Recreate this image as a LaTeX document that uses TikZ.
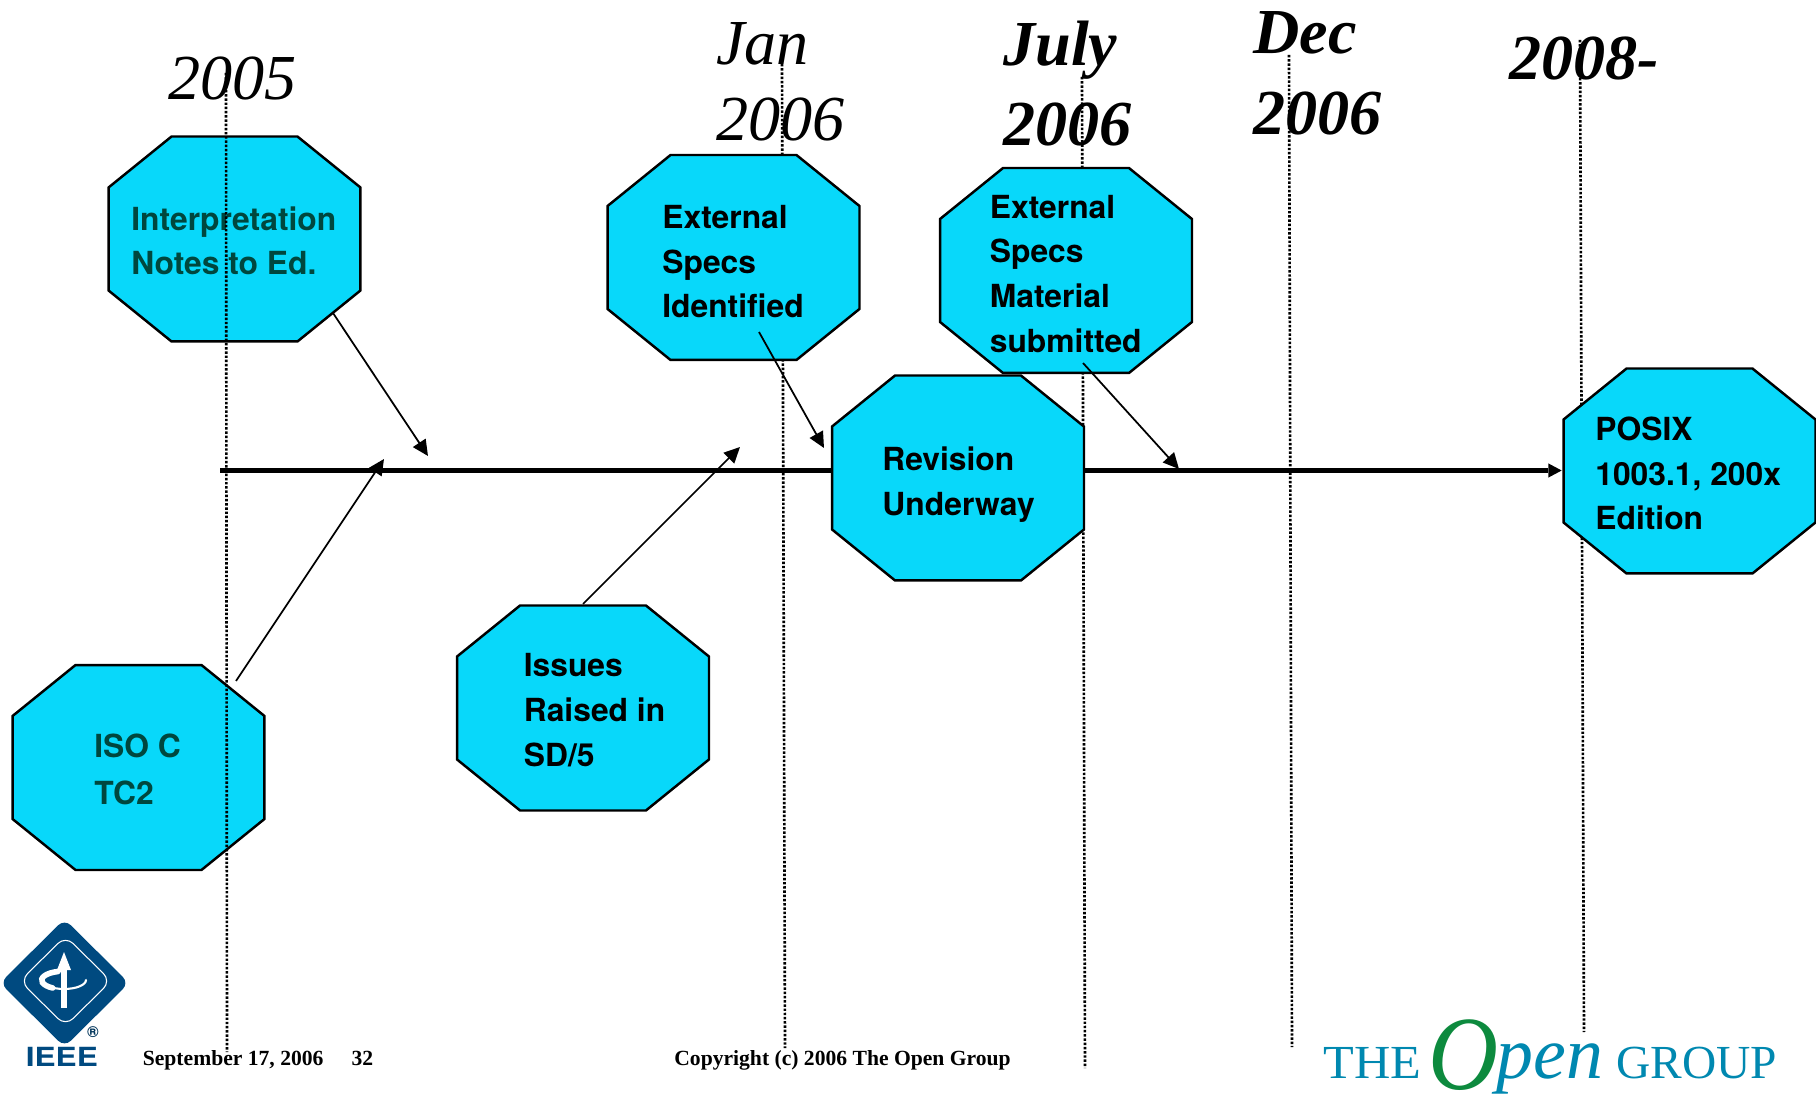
\documentclass[tikz,border=0pt]{standalone}
\usepackage{fontspec}
\usepackage{graphicx}
\usetikzlibrary{calc,arrows.meta}
\setmainfont{Liberation Serif}
\setsansfont{TeX Gyre Heros}
\definecolor{octfill}{HTML}{08D8FA}
\definecolor{darkteal}{HTML}{00473E}
\definecolor{ieeeblue}{HTML}{004A80}
\definecolor{ogblue}{HTML}{0088B0}
\definecolor{oggreen}{HTML}{0D8A3E}
\tikzset{
  octbox/.style={minimum width=5.04cm,minimum height=4.10cm,inner sep=0pt,outer sep=0pt},
  octo/.style={draw=black,fill=octfill,line width=1.4pt,line join=miter},
  octtext/.style={font=\sffamily\bfseries\fontsize{18.1}{25.5}\selectfont,align=left,anchor=base west,inner sep=0pt,text=black},
  year/.style={font=\itshape\fontsize{36.5}{43}\selectfont,align=left,anchor=base west,inner sep=0pt},
  yearb/.style={font=\bfseries\itshape\fontsize{36.5}{#1}\selectfont,align=left,anchor=base west,inner sep=0pt},
  yearb/.default=43,
  foot/.style={font=\bfseries\fontsize{12.3}{14}\selectfont,anchor=base west,inner sep=0pt},
  guide/.style={line width=1.5pt,dash pattern=on 1.4pt off 1pt},
  pointer/.style={line width=1pt,-{Triangle[length=9pt,width=8.5pt]},shorten >=0pt},
  axis/.style={line width=2.8pt,-{Triangle[length=7.5pt,width=8pt,line width=0pt]}},
  ogtext/.style={text=ogblue,anchor=base west,inner sep=0pt}
}
\newcommand{\octa}[3]{%
  \node[octbox] (#1) at (#2,#3) {};
  \draw[octo] ($(#1.north west)+(63,0)$) -- ($(#1.north east)+(-63,0)$) -- ($(#1.north east)+(0,51)$)
    -- ($(#1.south east)+(0,-51)$) -- ($(#1.south east)+(-63,0)$) -- ($(#1.south west)+(63,0)$)
    -- ($(#1.south west)+(0,-51)$) -- ($(#1.north west)+(0,51)$) -- cycle;
}
\begin{document}
\begin{tikzpicture}[x=0.02cm,y=-0.02cm]
\useasboundingbox (0,0) rectangle (1816,1094);

% axis
\coordinate (axisstart) at (220,470.5);
\node[inner sep=0pt,minimum size=0pt] (axisend) at (1562,470.5) {};
\draw[axis] (axisstart) -- (axisend);

% year labels
\node[year] (y2005) at (168,100) {2005};
\node[year] (yjan) at (716,140.5) {Jan\\2006};
\node[yearb=45.6] (yjul) at (1003,146) {July\\2006};
\node[yearb=46.3] (ydec) at (1253,134.5) {Dec\\2006};
\node[yearb] (y2008) at (1509,80) {2008-};

% guides behind boxes
\coordinate (g2a) at (782,64);    \coordinate (g2b) at (785,1048);
\coordinate (g3a) at (1082,77);   \coordinate (g3b) at (1085,1068);
\coordinate (g4a) at (1289,55);   \coordinate (g4b) at (1292,1047);
\coordinate (g5a) at (1580,40);   \coordinate (g5b) at (1584,1032);
\draw[guide] (g2a) -- (g2b);
\draw[guide] (g3a) -- (g3b);
\draw[guide] (g4a) -- (g4b);
\draw[guide] (g5a) -- (g5b);

% octagons
\octa{interp}{234.5}{239}
\octa{extid}{733.5}{257.5}
\octa{extmat}{1066}{270.5}
\octa{rev}{958}{478}
\octa{posix}{1689.5}{471}
\octa{iso}{138.5}{767.5}
\octa{issues}{583}{708}

% texts
\node[octtext,text=darkteal] (tinterp) at (131,275) {Interpretation\\Notes to Ed.};
\node[octtext] (textid) at (662,318) {External\\Specs\\Identified};
\node[octtext] (textmat) at (989.5,352.5) {External\\Specs\\Material\\submitted};
\node[octtext] (trev) at (882,515.5) {Revision\\Underway};
\node[octtext] (tposix) at (1595,530) {POSIX\\1003.1, 200x\\Edition};
\node[octtext,text=darkteal,font=\sffamily\bfseries\fontsize{18.1}{26.7}\selectfont] (tiso) at (94,804.5) {ISO C\\TC2};
\node[octtext] (tissues) at (523.5,766) {Issues\\Raised in\\SD/5};

% first guide, over its boxes
\coordinate (g1a) at (226,73);   \coordinate (g1b) at (227,1052);
\draw[guide] (g1a) -- (g1b);

% pointers
\coordinate (p1s) at (333,313);   \coordinate (p1e) at (428,456);
\coordinate (p2s) at (236,681);   \coordinate (p2e) at (384,459);
\coordinate (p3s) at (583,604);   \coordinate (p3e) at (740,447);
\coordinate (p4s) at (759,332);   \coordinate (p4e) at (824,448);
\coordinate (p5s) at (1083,363);  \coordinate (p5e) at (1179,469);
\draw[pointer] (p1s) -- (p1e);
\draw[pointer] (p2s) -- (p2e);
\draw[pointer] (p3s) -- (p3e);
\draw[pointer] (p4s) -- (p4e);
\draw[pointer] (p5s) -- (p5e);

% footer
\node[foot] (fdate) at (142.5,1065) {September 17, 2006\hspace{16pt}32};
\node[foot] (fcopy) at (674,1065) {Copyright (c) 2006 The Open Group};

% IEEE logo
\fill[ieeeblue,rounded corners=5pt] (0,983) -- (64.5,919) -- (129,983) -- (64.5,1047) -- cycle;
\draw[white,line width=0.6pt,rounded corners=6pt] (20,981) -- (65.5,936) -- (111,981) -- (65.5,1026) -- cycle;
\draw[white,line width=1.2pt,line cap=round] (64,971) arc[start angle=270,end angle=0,x radius=22,y radius=9];
\draw[white,line width=3.2pt,line cap=round] (58,971.5) arc[start angle=255,end angle=120,x radius=22,y radius=9];
\draw[white,line width=3.6pt] (64,1008) -- (64,965);
\fill[white] (64,952) -- (71,970) -- (57,970) -- cycle;
\node[inner sep=0pt,font=\sffamily\bfseries\fontsize{9}{9}\selectfont,text=ieeeblue!70!black] (ieeer) at (93,1032) {®};
\node[inner sep=0pt,anchor=base west,text=ieeeblue,font=\sffamily\bfseries\fontsize{15}{15}\selectfont] (ieee) at (25.5,1066) {\scalebox{1.2}[1]{IEEE}};

% Open Group logo
\node[ogtext,font=\fontsize{27}{27}\selectfont] (ogthe) at (1323,1078) {\scalebox{1.06}[1]{THE}};
\node[anchor=base west,inner sep=0pt,text=oggreen,font=\itshape\fontsize{60}{60}\selectfont] (ogo) at (1428,1089) {\scalebox{0.92}[1]{O}};
\node[ogtext,font=\itshape\fontsize{42}{42}\selectfont] (ogpen) at (1496,1078) {pen};
\node[ogtext,font=\fontsize{27}{27}\selectfont] (oggroup) at (1616,1078) {GROUP};
\end{tikzpicture}
\end{document}
